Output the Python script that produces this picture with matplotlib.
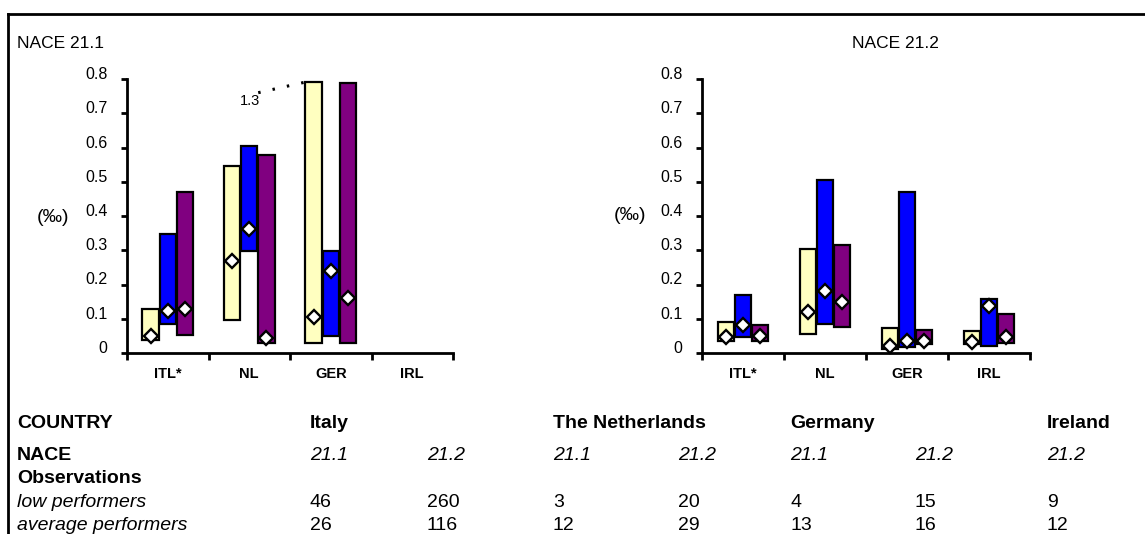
import numpy as np
import matplotlib
matplotlib.use('Agg')
import matplotlib.pyplot as plt
from matplotlib import font_manager
from matplotlib.lines import Line2D

nan = np.nan

# country groups on the x axis
countries = ['ITL*', 'NL', 'GER', 'IRL']
groups = ['low performers', 'average performers', 'high performers']
colors = ['#FFFFC0', '#0000FF', '#800080']

# NACE 21.1 (per mille): min, max and marker value for each group
low_211_min = [0.037, 0.097, 0.029, nan]
low_211_max = [0.128, 0.547, 1.3, nan]
low_211_mid = [0.050, 0.270, 0.105, nan]
avg_211_min = [0.086, 0.299, 0.049, nan]
avg_211_max = [0.347, 0.605, 0.297, nan]
avg_211_mid = [0.124, 0.363, 0.240, nan]
high_211_min = [0.054, 0.029, 0.029, nan]
high_211_max = [0.470, 0.577, 0.788, nan]
high_211_mid = [0.128, 0.044, 0.160, nan]

# NACE 21.2
low_212_min = [0.034, 0.056, 0.012, 0.026]
low_212_max = [0.090, 0.303, 0.073, 0.063]
low_212_mid = [0.047, 0.119, 0.021, 0.031]
avg_212_min = [0.047, 0.086, 0.017, 0.021]
avg_212_max = [0.170, 0.504, 0.470, 0.157]
avg_212_mid = [0.083, 0.180, 0.036, 0.138]
high_212_min = [0.034, 0.076, 0.026, 0.029]
high_212_max = [0.083, 0.314, 0.068, 0.114]
high_212_mid = [0.050, 0.148, 0.036, 0.047]

yticks = [0, 0.1, 0.2, 0.3, 0.4, 0.5, 0.6, 0.7, 0.8]
ytick_labels = ['0', '0.1', '0.2', '0.3', '0.4', '0.5', '0.6', '0.7', '0.8']

# table under the charts
table_countries = ['Italy', '', 'The Netherlands', '', 'Germany', '', 'Ireland']
table_nace = ['21.1', '21.2', '21.1', '21.2', '21.1', '21.2', '21.2']
obs_low = [46, 260, 3, 20, 4, 15, 9]
obs_avg = [26, 116, 12, 29, 13, 16, 12]

available = {f.name for f in font_manager.fontManager.ttflist}
narrow = 'Liberation Sans Narrow' if 'Liberation Sans Narrow' in available else 'Liberation Sans'
plt.rcParams['font.family'] = ['Liberation Sans', 'DejaVu Sans']

W, H = 1145, 534
offsets = [-0.21, 0.0, 0.21]
cap = 0.79


def fx(px):
    return px / W


def fy(py):
    return 1 - py / H


def draw_panel(ax, mins, maxs, mids):
    x = np.arange(len(countries))
    for i in range(3):
        lo = np.array(mins[i])
        hi = np.array(maxs[i])
        top = np.minimum(hi, cap)
        pos = x + offsets[i]
        ax.bar(pos, top - lo, bottom=lo, width=0.2, color=colors[i],
               edgecolor='black', linewidth=1.6, zorder=2)
        ax.plot(pos, mids[i], linestyle='none', marker='D', markersize=7,
                markerfacecolor='white', markeredgecolor='black',
                markeredgewidth=1.7, zorder=3, clip_on=False)
        # bars taller than the axis get their real value written next to them
        for j in range(len(x)):
            if hi[j] > cap:
                xl = pos[j] - 0.1
                ax.plot([xl - 0.58, xl - 0.02], [cap - 0.03, cap], color='black',
                        linewidth=2.2, linestyle=(0, (0.8, 4)), clip_on=False)
                ax.text(xl - 0.68, cap - 0.055, f'{hi[j]:.1f}', ha='center',
                        va='center', fontsize=10.5, family=narrow)

    ax.set_xlim(-0.5, 3.5)
    ax.set_ylim(0, 0.8)
    for s in ['top', 'right']:
        ax.spines[s].set_visible(False)
    for s in ['left', 'bottom']:
        ax.spines[s].set_linewidth(2)
    ax.set_xticks(x)
    ax.set_xticklabels(countries, fontweight='bold', fontsize=10.5)
    ax.set_xticks(np.arange(-0.5, 4, 1), minor=True)
    ax.tick_params(axis='x', which='major', length=0, pad=10)
    ax.tick_params(axis='x', which='minor', length=5, width=2, direction='out')
    ax.set_yticks(yticks)
    ax.set_yticklabels(ytick_labels, fontsize=11.5)
    ax.tick_params(axis='y', length=4, width=2, pad=10)
    plt.setp(ax.get_yticklabels(), va='baseline')
    ax.patch.set_visible(False)


fig = plt.figure(figsize=(W / 100, H / 100), dpi=100)

ax1 = fig.add_axes([fx(127), fy(353), fx(326), 274 / H])
draw_panel(ax1, [low_211_min, avg_211_min, high_211_min],
           [low_211_max, avg_211_max, high_211_max],
           [low_211_mid, avg_211_mid, high_211_mid])

ax2 = fig.add_axes([fx(702), fy(353), fx(328), 274 / H])
draw_panel(ax2, [low_212_min, avg_212_min, high_212_min],
           [low_212_max, avg_212_max, high_212_max],
           [low_212_mid, avg_212_mid, high_212_mid])

# frame lines at the top and left
fig.add_artist(Line2D([fx(8), 1], [fy(14), fy(14)], color='black', linewidth=2))
fig.add_artist(Line2D([fx(8), fx(8)], [fy(14), 0], color='black', linewidth=2))

fig.text(fx(17), fy(48), 'NACE 21.1', fontsize=12.5, va='baseline')
fig.text(fx(895), fy(48), 'NACE 21.2', fontsize=12.5, va='baseline', ha='center')
fig.text(fx(53), fy(218), '(‰)', fontsize=14, ha='center', va='center')
fig.text(fx(630), fy(216), '(‰)', fontsize=14, ha='center', va='center')

col_x = [310, 427, 553, 678, 790, 915, 1047]
tsize = 14
fig.text(fx(17), fy(428), 'COUNTRY', fontsize=tsize, fontweight='bold', family=narrow, va='baseline')
fig.text(fx(17), fy(460), 'NACE', fontsize=tsize, fontweight='bold', family=narrow, va='baseline')
fig.text(fx(17), fy(483), 'Observations', fontsize=tsize, fontweight='bold', family=narrow, va='baseline')
fig.text(fx(17), fy(507), groups[0], fontsize=tsize, style='italic', family=narrow, va='baseline')
fig.text(fx(17), fy(530), groups[1], fontsize=tsize, style='italic', family=narrow, va='baseline')
for k in range(len(col_x)):
    if table_countries[k]:
        fig.text(fx(col_x[k]), fy(428), table_countries[k], fontsize=tsize,
                 fontweight='bold', family=narrow, va='baseline')
    fig.text(fx(col_x[k]), fy(460), table_nace[k], fontsize=tsize,
             style='italic', family=narrow, va='baseline')
    fig.text(fx(col_x[k]), fy(507), str(obs_low[k]), fontsize=tsize,
             family=narrow, va='baseline')
    fig.text(fx(col_x[k]), fy(530), str(obs_avg[k]), fontsize=tsize,
             family=narrow, va='baseline')

fig.savefig('out.png', dpi=100)
